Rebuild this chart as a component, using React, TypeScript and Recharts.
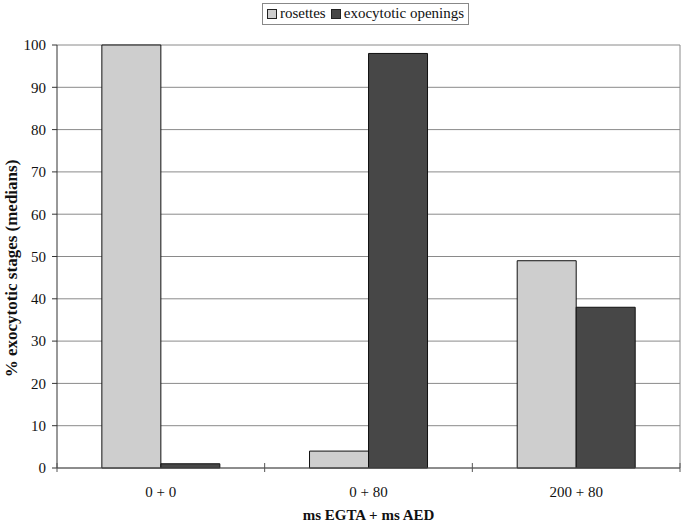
import { BarChart, Bar, XAxis, YAxis, CartesianGrid, Legend } from 'recharts';

const categories = ['0 + 0', '0 + 80', '200 + 80'];
const rosettes = [100, 4, 49];
const exocytoticOpenings = [1, 98, 38];
const yTicks = [0, 10, 20, 30, 40, 50, 60, 70, 80, 90, 100];

const data = categories.map((name, i) => ({
  name,
  rosettes: rosettes[i],
  openings: exocytoticOpenings[i],
}));

const W = 684;
const H = 523;
const PLOT_LEFT = 57;
const PLOT_RIGHT = 680;
const BAND = (PLOT_RIGHT - PLOT_LEFT) / categories.length;
const FONT = '"Liberation Serif", "Times New Roman", serif';
const LIGHT = '#cecece';
const DARK = '#474747';

const TICK_SIZE = 4;
const TICK_MARGIN = 14;

// Excel style: labels at band centres, tick marks on band edges
const CategoryTick = (props: any) => {
  const { x, y, payload, index } = props;
  const axisY = y - TICK_SIZE - TICK_MARGIN;
  const edges = [x + BAND / 2];
  if (index === 0) edges.push(x - BAND / 2);
  return (
    <g>
      {edges.map((ex, k) => (
        <line key={k} x1={ex} x2={ex} y1={axisY - 5} y2={axisY + 4} stroke="#555" strokeWidth={1} />
      ))}
      <text x={x} y={y} dy="0.71em" textAnchor="middle" fontFamily={FONT} fontSize={15} fill="#111">
        {payload.value}
      </text>
    </g>
  );
};

const YTitle = (props: any) => {
  const { viewBox } = props;
  const cx = 11;
  const cy = viewBox.y + viewBox.height / 2 + 12;
  return (
    <text
      x={cx}
      y={cy}
      transform={`rotate(-90, ${cx}, ${cy})`}
      textAnchor="middle"
      dominantBaseline="central"
      fontFamily={FONT}
      fontSize={17}
      fontWeight="bold"
      fill="#111"
    >
      % exocytotic stages (medians)
    </text>
  );
};

const LegendBox = () => (
  <div style={{ display: 'flex', justifyContent: 'center' }}>
    <div
      style={{
        border: '1px solid #888',
        padding: '1px 4px 2px 4px',
        marginLeft: -6,
        fontFamily: FONT,
        fontSize: 15,
        color: '#111',
        display: 'flex',
        alignItems: 'center',
        whiteSpace: 'nowrap',
      }}
    >
      <span style={{ width: 8, height: 8, background: LIGHT, border: '1px solid #222', marginRight: 3 }} />
      <span style={{ marginRight: 5 }}>rosettes</span>
      <span style={{ width: 8, height: 8, background: DARK, border: '1px solid #222', marginRight: 3 }} />
      <span>exocytotic openings</span>
    </div>
  </div>
);

export default function App() {
  return (
    <div style={{ position: 'absolute', left: 0, top: 0, width: W, height: H, background: '#fff' }}>
      <BarChart
        width={W}
        height={H}
        data={data}
        margin={{ top: 45, right: W - PLOT_RIGHT, bottom: 0, left: 0 }}
        barCategoryGap="21.6%"
        barGap={0}
      >
        <CartesianGrid
          stroke="#8a8a8a"
          strokeWidth={1}
          vertical
          verticalPoints={[PLOT_RIGHT]}
        />
        <XAxis
          dataKey="name"
          height={55}
          axisLine={{ stroke: '#555' }}
          tickLine={false}
          tickSize={TICK_SIZE}
          tickMargin={TICK_MARGIN}
          tick={<CategoryTick />}
          interval={0}
          label={{
            value: 'ms EGTA + ms AED',
            position: 'insideBottom',
            offset: 3,
            fontFamily: FONT,
            fontSize: 15,
            fontWeight: 'bold',
            fill: '#111',
          }}
        />
        <YAxis
          width={PLOT_LEFT}
          domain={[0, 100]}
          ticks={yTicks}
          interval={0}
          axisLine={{ stroke: '#333' }}
          tickLine={{ stroke: '#333' }}
          tickSize={5}
          tickMargin={6}
          tick={{ fontFamily: FONT, fontSize: 15, fill: '#111' }}
          label={<YTitle />}
        />
        <Legend
          verticalAlign="middle"
          content={<LegendBox />}
          wrapperStyle={{ top: 3, left: PLOT_LEFT, width: PLOT_RIGHT - PLOT_LEFT }}
        />
        <Bar dataKey="rosettes" name="rosettes" fill={LIGHT} stroke="#111" strokeWidth={1} isAnimationActive={false} />
        <Bar dataKey="openings" name="exocytotic openings" fill={DARK} stroke="#111" strokeWidth={1} isAnimationActive={false} />
      </BarChart>
    </div>
  );
}
